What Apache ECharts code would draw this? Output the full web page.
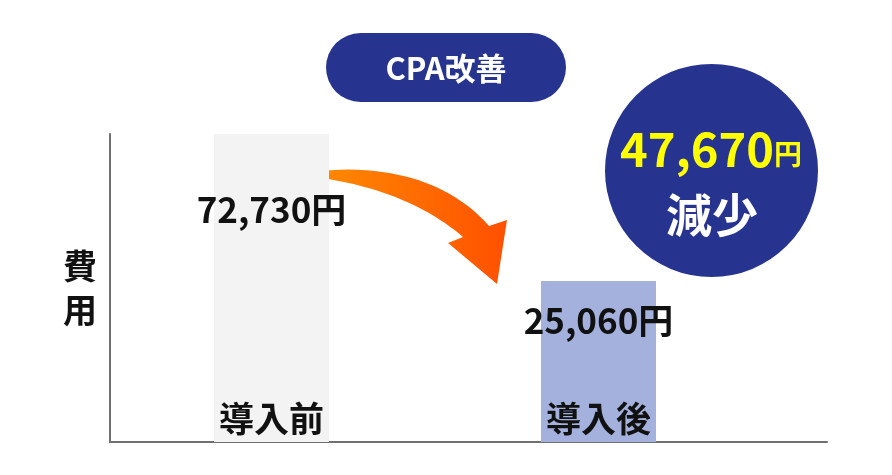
<!DOCTYPE html>
<html>
<head>
<meta charset="utf-8">
<script src="https://cdn.jsdelivr.net/npm/echarts@6/dist/echarts.min.js"></script>
<style>
  html, body { margin: 0; padding: 0; background: #fff; }
  #main { width: 892px; height: 475px; }
</style>
</head>
<body>
<div id="main"></div>
<script>
// データ
var categories = ['導入前', '導入後'];
var costValues = [72730, 25060];
var barColors = ['#f3f3f3', '#a3b1dc'];
var axisName = '費用';
var badgeText = 'CPA改善';
var circleUnit = '円';
var circleText = '減少';

var FONT = '"Noto Sans CJK JP", "Noto Sans", sans-serif';
var NAVY = '#27348f';
var yMin = -27100;  // 棒の高さを元画像に合わせるための基準
var yMax = 72730;
var labelDist = [58, 22];  // ラベル位置（棒の上端から）

var saving = costValues[0] - costValues[1];

var chart = echarts.init(document.getElementById('main'));

var barData = costValues.map(function(v, i) {
	return {
		value: v,
		itemStyle: { color: barColors[i] },
		label: { distance: labelDist[i] }
	};
});

// 矢印の形（3次ベジェを点列にする）
function bez(p0, p1, p2, p3, n) {
	var pts = [];
	for (var i = 0; i <= n; i++) {
		var t = i / n, u = 1 - t;
		pts.push([
			u*u*u*p0[0] + 3*u*u*t*p1[0] + 3*u*t*t*p2[0] + t*t*t*p3[0],
			u*u*u*p0[1] + 3*u*u*t*p1[1] + 3*u*t*t*p2[1] + t*t*t*p3[1]
		]);
	}
	return pts;
}
var arrowPts = bez([293, 175], [360, 162], [440, 170], [489, 226], 30)
	.concat([[507, 220], [497, 284], [448, 243]])
	.concat(bez([463, 237], [420, 200], [360, 180], [293, 175], 30));

var option = {
	animation: false,
	grid: [
		{ left: 110, right: 65, top: 134, bottom: 33 },  // 軸線用
		{ left: 108, width: 654, top: 134, bottom: 33 }  // 棒用
	],
	xAxis: [
		{
			gridIndex: 0, type: 'value', min: 0, max: 1,
			axisLine: { show: true, onZero: false, lineStyle: { color: '#707070', width: 2 } },
			axisTick: { show: false }, axisLabel: { show: false }, splitLine: { show: false }
		},
		{
			gridIndex: 1, type: 'category', data: categories, z: 5,
			axisLine: { show: false }, axisTick: { show: false },
			axisLabel: {
				inside: true, margin: 6,
				color: '#111', fontSize: 35, fontWeight: 'bold', fontFamily: FONT
			}
		}
	],
	yAxis: [
		{
			gridIndex: 0, type: 'value', min: 0, max: 1,
			axisLine: { show: true, lineStyle: { color: '#707070', width: 2 } },
			axisTick: { show: false }, axisLabel: { show: false }, splitLine: { show: false },
			name: axisName.split('').join('\n'),
			nameLocation: 'middle', nameRotate: 0, nameGap: 30,
			nameTextStyle: {
				color: '#111', fontSize: 34, fontWeight: 'bold', fontFamily: FONT,
				lineHeight: 44, align: 'center', verticalAlign: 'middle'
			}
		},
		{
			gridIndex: 1, type: 'value', min: yMin, max: yMax, startValue: yMin,
			axisLine: { show: false }, axisTick: { show: false },
			axisLabel: { show: false }, splitLine: { show: false }
		}
	],
	series: [{
		type: 'bar',
		xAxisIndex: 1, yAxisIndex: 1,
		barWidth: 115,
		data: barData,
		label: {
			show: true, position: 'insideTop',
			color: '#111', fontSize: 35, fontWeight: 'bold', fontFamily: FONT,
			formatter: function(p) { return echarts.format.addCommas(p.value) + '円'; }
		}
	}],
	graphic: [
		{  // CPA改善
			type: 'group', x: 326, y: 33,
			children: [
				{ type: 'rect', shape: { x: 0, y: 0, width: 240, height: 69, r: 34.5 }, style: { fill: NAVY } },
				{ type: 'text', x: 120, y: 35, style: {
					text: badgeText, fill: '#fff', font: 'bold 31px ' + FONT,
					align: 'center', verticalAlign: 'middle'
				} }
			]
		},
		{  // 矢印
			type: 'polygon',
			shape: { points: arrowPts },
			style: {
				fill: {
					type: 'linear', x: 0, y: 0, x2: 1, y2: 0,
					colorStops: [
						{ offset: 0, color: '#ff9200' },
						{ offset: 1, color: '#ff5000' }
					]
				}
			}
		},
		{  // 減少の円
			type: 'group', x: 605, y: 64,
			children: [
				{ type: 'circle', shape: { cx: 106.5, cy: 106.5, r: 106.5 }, style: { fill: NAVY } },
				{ type: 'text', x: 106, y: 85, style: {
					text: '{a|' + echarts.format.addCommas(saving) + '}{b|' + circleUnit + '}',
					align: 'center', verticalAlign: 'middle',
					rich: {
						a: { fill: '#ffff00', fontSize: 47, fontWeight: 'bold', fontFamily: FONT },
						b: { fill: '#ffff00', fontSize: 28, fontWeight: 'bold', fontFamily: FONT, padding: [10, 0, 0, 0] }
					}
				} },
				{ type: 'text', x: 107, y: 151, style: {
					text: circleText, fill: '#fff', font: 'bold 46px ' + FONT,
					align: 'center', verticalAlign: 'middle'
				} }
			]
		}
	]
};

chart.setOption(option);
</script>
</body>
</html>
